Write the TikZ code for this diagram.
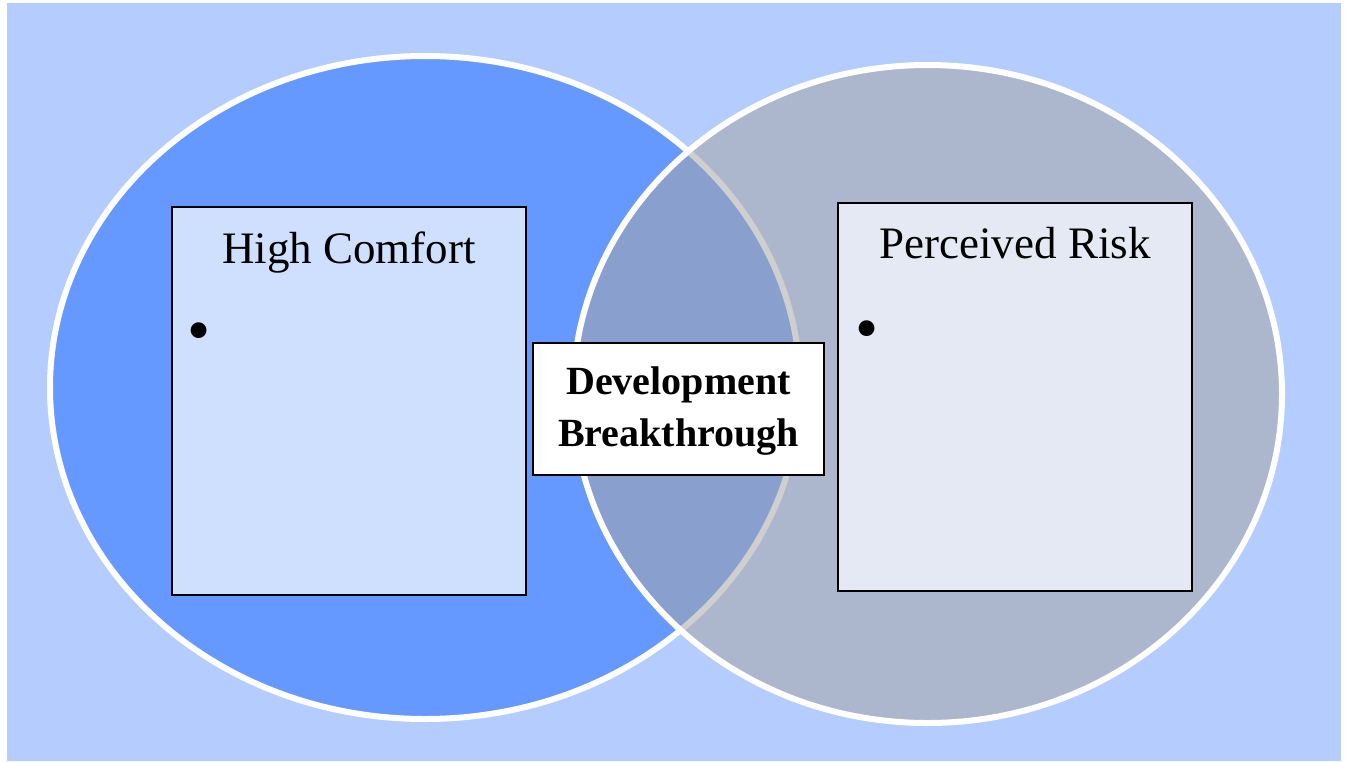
\documentclass[tikz,border=0pt]{standalone}
\usepackage{fontspec}
\setmainfont{Liberation Serif}
\definecolor{bgblue}{HTML}{B4CCFE}
\definecolor{leftblue}{HTML}{6699FF}
\definecolor{riskgray}{HTML}{A7A7A6}
\definecolor{leftbox}{HTML}{CFE0FF}
\definecolor{rightbox}{HTML}{E5E9F3}
\tikzset{
  venn/.style={draw=white, line width=6pt},
  panel/.style={draw=black, line width=2pt},
  title/.style={font=\fontsize{45}{54}\selectfont, anchor=base, inner sep=0pt},
  bul/.style={font=\fontsize{66}{70}\selectfont, inner sep=0pt},
}
\begin{document}
\begin{tikzpicture}[x=1pt,y=-1pt]
\useasboundingbox (0,0) rectangle (1348,761);
\fill[bgblue] (7,3) rectangle (1341,761);
% circles
\path[venn, fill=leftblue] (425,387.5) ellipse [x radius=375pt, y radius=331.5pt];
\path[venn, fill=riskgray, fill opacity=0.54] (927.5,394) ellipse [x radius=354.5pt, y radius=329pt];
% panels
\path[panel, fill=leftbox] (172,207) rectangle (526,595);
\path[panel, fill=rightbox] (838,203) rectangle (1192,591);
\node[title] (hc) at (349,263) {High Comfort};
\node[title] (pr) at (1015,258) {Perceived Risk};
\node[bul] (b1) at (199,338) {•};
\node[bul] (b2) at (867,336) {•};
% center box
\path[panel, fill=white] (533,343) rectangle (824,475);
\node[font=\bfseries\fontsize{40}{52}\selectfont, anchor=base, inner sep=0pt] (d1) at (678.5,394) {Development};
\node[font=\bfseries\fontsize{40}{52}\selectfont, anchor=base, inner sep=0pt] (d2) at (678.5,446) {Breakthrough};
\end{tikzpicture}
\end{document}
